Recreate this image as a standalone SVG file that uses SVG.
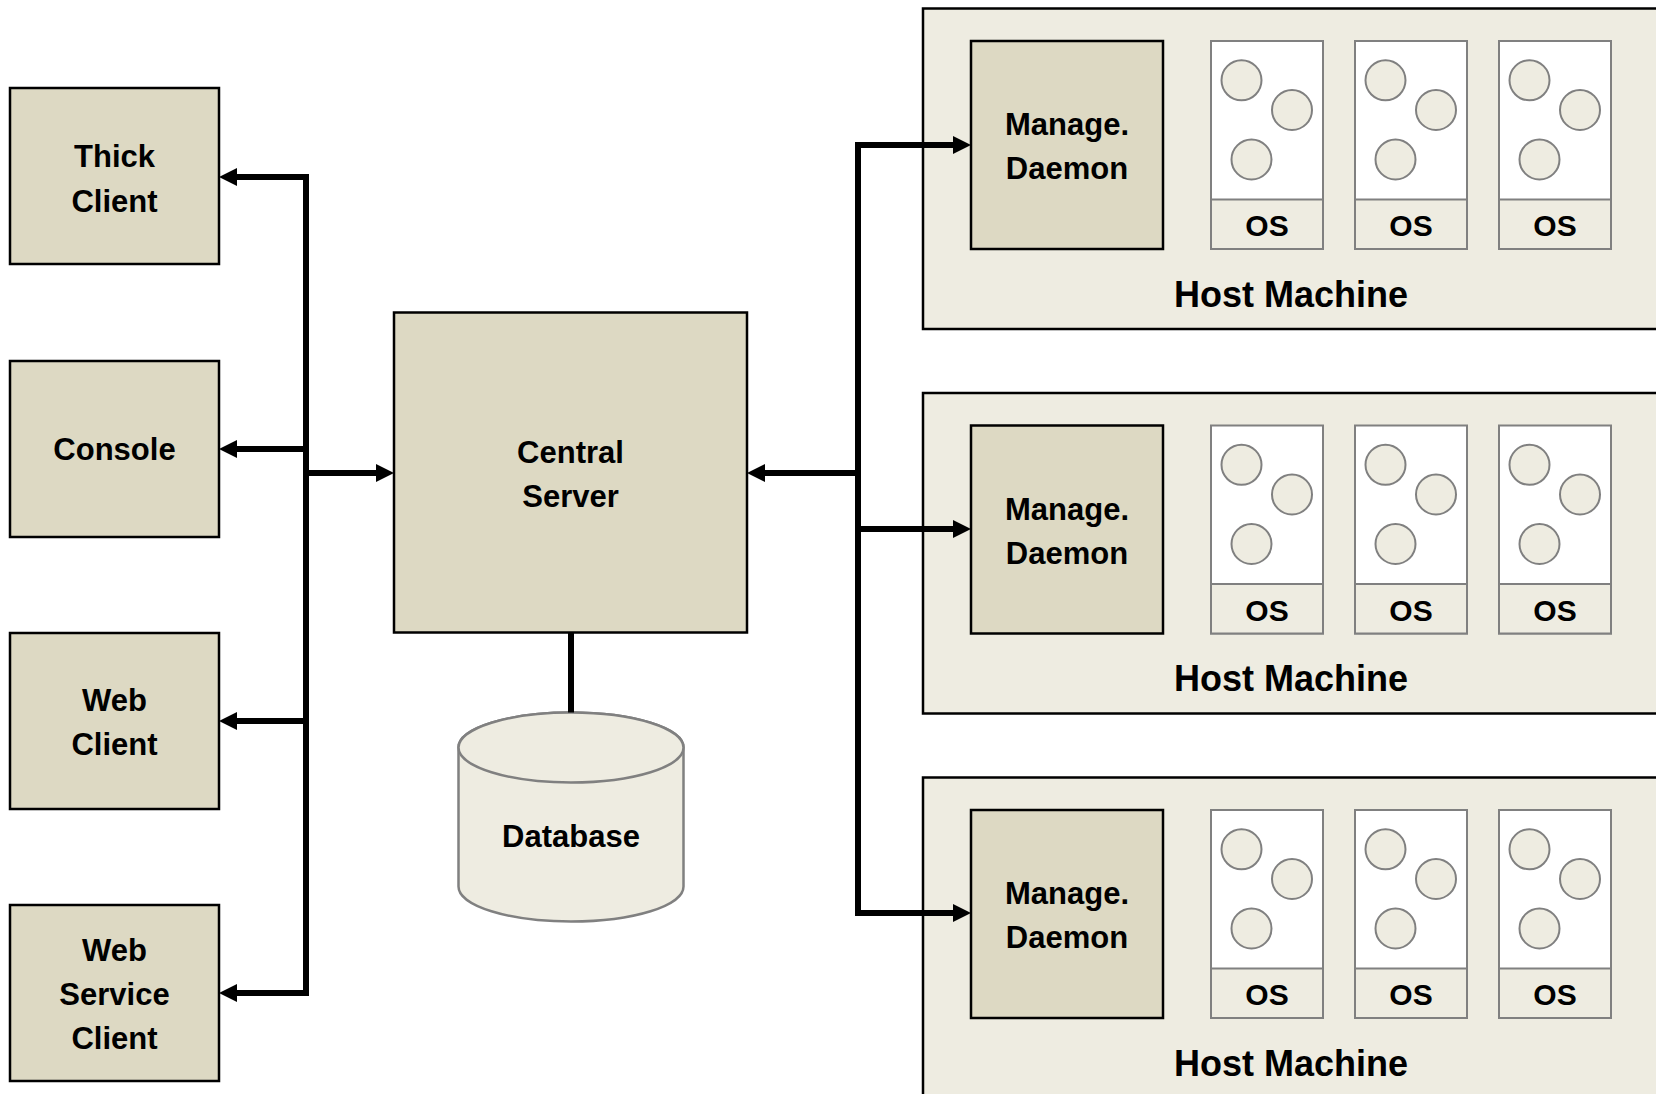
<svg xmlns="http://www.w3.org/2000/svg" width="1656" height="1094" viewBox="0 0 1656 1094">
<style>
.box{fill:#DDD9C3;stroke:#000;stroke-width:2.5}
.host{fill:#EEECE1;stroke:#000;stroke-width:2.5}
.vm{fill:#fff;stroke:#808080;stroke-width:2}
.oscell{fill:#EEECE1;stroke:#808080;stroke-width:2}
.app{fill:#EEECE1;stroke:#808080;stroke-width:2}
.db{fill:#EEECE1;stroke:#808080;stroke-width:2.5}
.t{font-family:"Liberation Sans",Arial,sans-serif;font-weight:bold;font-size:31px;fill:#000;text-anchor:middle}
.th{font-size:36px}
.os{font-size:30px}
.c{fill:none;stroke:#000;stroke-width:6}
</style>
<defs>
<marker id="ah" viewBox="0 0 18 18" markerWidth="18" markerHeight="18" refX="8" refY="9" markerUnits="userSpaceOnUse" orient="auto">
<path d="M0,0 L18,9 L0,18 z" fill="#000"/>
</marker>
</defs>

<g id="thick-client">
<rect class="box" x="10" y="88" width="209" height="176"/>
<text class="t" x="114.5" y="167">Thick</text>
<text class="t" x="114.5" y="211.5">Client</text>
</g>
<g id="console">
<rect class="box" x="10" y="361" width="209" height="176"/>
<text class="t" x="114.5" y="460">Console</text>
</g>
<g id="web-client">
<rect class="box" x="10" y="633" width="209" height="176"/>
<text class="t" x="114.5" y="710.5">Web</text>
<text class="t" x="114.5" y="755">Client</text>
</g>
<g id="web-service-client">
<rect class="box" x="10" y="905" width="209" height="176"/>
<text class="t" x="114.5" y="961">Web</text>
<text class="t" x="114.5" y="1005">Service</text>
<text class="t" x="114.5" y="1049">Client</text>
</g>

<g id="central-server">
<rect class="box" x="394" y="312.5" width="353" height="320"/>
<text class="t" x="570.5" y="463">Central</text>
<text class="t" x="570.5" y="507">Server</text>
</g>

<g id="database">
<path class="db" d="M458.5,747.5 V886.5 A112.5,35 0 0 0 683.5,886.5 V747.5 A112.5,35 0 0 0 458.5,747.5 Z"/>
<ellipse class="db" cx="571" cy="747.5" rx="112.5" ry="35"/>
<text class="t" x="571" y="847">Database</text>
</g>

<g id="host-1">
<rect class="host" x="923" y="8.5" width="760" height="320.5"/>
<text class="t th" x="1291" y="306.5">Host Machine</text>
<g id="daemon-1">
<rect class="box" x="971" y="41" width="192" height="208"/>
<text class="t" x="1067" y="135">Manage.</text>
<text class="t" x="1067" y="179">Daemon</text>
</g>
<g id="vm-1-1">
<rect class="vm" x="1211" y="41" width="112" height="208"/>
<rect class="oscell" x="1211" y="199.5" width="112" height="49.5"/>
<circle class="app" cx="1241.5" cy="80.3" r="20"/>
<circle class="app" cx="1292" cy="110" r="20"/>
<circle class="app" cx="1251.5" cy="159.5" r="20"/>
<text class="t os" x="1267" y="236">OS</text>
</g>
<g id="vm-1-2">
<rect class="vm" x="1355" y="41" width="112" height="208"/>
<rect class="oscell" x="1355" y="199.5" width="112" height="49.5"/>
<circle class="app" cx="1385.5" cy="80.3" r="20"/>
<circle class="app" cx="1436" cy="110" r="20"/>
<circle class="app" cx="1395.5" cy="159.5" r="20"/>
<text class="t os" x="1411" y="236">OS</text>
</g>
<g id="vm-1-3">
<rect class="vm" x="1499" y="41" width="112" height="208"/>
<rect class="oscell" x="1499" y="199.5" width="112" height="49.5"/>
<circle class="app" cx="1529.5" cy="80.3" r="20"/>
<circle class="app" cx="1580" cy="110" r="20"/>
<circle class="app" cx="1539.5" cy="159.5" r="20"/>
<text class="t os" x="1555" y="236">OS</text>
</g>
</g>

<g id="host-2" transform="translate(0,384.5)">
<rect class="host" x="923" y="8.5" width="760" height="320.5"/>
<text class="t th" x="1291" y="306.5">Host Machine</text>
<g id="daemon-2">
<rect class="box" x="971" y="41" width="192" height="208"/>
<text class="t" x="1067" y="135">Manage.</text>
<text class="t" x="1067" y="179">Daemon</text>
</g>
<g id="vm-2-1">
<rect class="vm" x="1211" y="41" width="112" height="208"/>
<rect class="oscell" x="1211" y="199.5" width="112" height="49.5"/>
<circle class="app" cx="1241.5" cy="80.3" r="20"/>
<circle class="app" cx="1292" cy="110" r="20"/>
<circle class="app" cx="1251.5" cy="159.5" r="20"/>
<text class="t os" x="1267" y="236">OS</text>
</g>
<g id="vm-2-2">
<rect class="vm" x="1355" y="41" width="112" height="208"/>
<rect class="oscell" x="1355" y="199.5" width="112" height="49.5"/>
<circle class="app" cx="1385.5" cy="80.3" r="20"/>
<circle class="app" cx="1436" cy="110" r="20"/>
<circle class="app" cx="1395.5" cy="159.5" r="20"/>
<text class="t os" x="1411" y="236">OS</text>
</g>
<g id="vm-2-3">
<rect class="vm" x="1499" y="41" width="112" height="208"/>
<rect class="oscell" x="1499" y="199.5" width="112" height="49.5"/>
<circle class="app" cx="1529.5" cy="80.3" r="20"/>
<circle class="app" cx="1580" cy="110" r="20"/>
<circle class="app" cx="1539.5" cy="159.5" r="20"/>
<text class="t os" x="1555" y="236">OS</text>
</g>
</g>

<g id="host-3" transform="translate(0,769)">
<rect class="host" x="923" y="8.5" width="760" height="340"/>
<text class="t th" x="1291" y="306.5">Host Machine</text>
<g id="daemon-3">
<rect class="box" x="971" y="41" width="192" height="208"/>
<text class="t" x="1067" y="135">Manage.</text>
<text class="t" x="1067" y="179">Daemon</text>
</g>
<g id="vm-3-1">
<rect class="vm" x="1211" y="41" width="112" height="208"/>
<rect class="oscell" x="1211" y="199.5" width="112" height="49.5"/>
<circle class="app" cx="1241.5" cy="80.3" r="20"/>
<circle class="app" cx="1292" cy="110" r="20"/>
<circle class="app" cx="1251.5" cy="159.5" r="20"/>
<text class="t os" x="1267" y="236">OS</text>
</g>
<g id="vm-3-2">
<rect class="vm" x="1355" y="41" width="112" height="208"/>
<rect class="oscell" x="1355" y="199.5" width="112" height="49.5"/>
<circle class="app" cx="1385.5" cy="80.3" r="20"/>
<circle class="app" cx="1436" cy="110" r="20"/>
<circle class="app" cx="1395.5" cy="159.5" r="20"/>
<text class="t os" x="1411" y="236">OS</text>
</g>
<g id="vm-3-3">
<rect class="vm" x="1499" y="41" width="112" height="208"/>
<rect class="oscell" x="1499" y="199.5" width="112" height="49.5"/>
<circle class="app" cx="1529.5" cy="80.3" r="20"/>
<circle class="app" cx="1580" cy="110" r="20"/>
<circle class="app" cx="1539.5" cy="159.5" r="20"/>
<text class="t os" x="1555" y="236">OS</text>
</g>
</g>

<g id="connectors">
<path class="c" d="M306,174 V996"/>
<path class="c" d="M309,177 H229" marker-end="url(#ah)"/>
<path class="c" d="M309,449 H229" marker-end="url(#ah)"/>
<path class="c" d="M309,721 H229" marker-end="url(#ah)"/>
<path class="c" d="M309,993 H229" marker-end="url(#ah)"/>
<path class="c" d="M303,473 H384" marker-end="url(#ah)"/>
<path class="c" d="M858,142 V916"/>
<path class="c" d="M861,473 H757" marker-end="url(#ah)"/>
<path class="c" d="M855,145 H961" marker-end="url(#ah)"/>
<path class="c" d="M855,529 H961" marker-end="url(#ah)"/>
<path class="c" d="M855,913 H961" marker-end="url(#ah)"/>
<path class="c" d="M571,632.5 V712.5"/>
</g>
</svg>
